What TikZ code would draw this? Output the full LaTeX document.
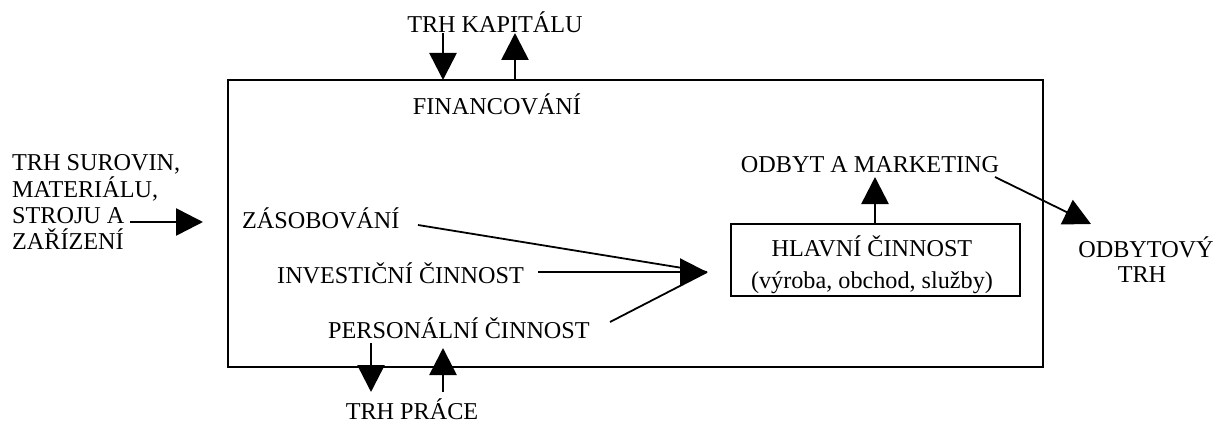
\documentclass[tikz,border=0pt]{standalone}
\usepackage{fontspec}
\setmainfont{Liberation Serif}
\usetikzlibrary{arrows.meta}
\begin{document}
\begin{tikzpicture}[x=1pt,y=-1pt,
  lbl/.style={inner sep=0pt, font=\fontsize{24.2}{26}\selectfont},
  bigarrow/.style={-{Triangle[length=27pt,width=27pt]}, line width=2.6pt},
  thinline/.style={line width=1.8pt},
  framebox/.style={draw, line width=1.8pt, inner sep=0pt}]
\useasboundingbox (0,0) rectangle (1214,422);
% main frame
\node[framebox, minimum width=815pt, minimum height=287pt] (firm) at (635.5,223.5) {};
% top
\node[lbl, anchor=base] (kap) at (495,33) {TRH KAPITÁLU};
\node[lbl, anchor=base] (fin) at (497,115) {FINANCOVÁNÍ};
\coordinate (kd1) at (443,33); \coordinate (kd2) at (443,80);
\coordinate (ku1) at (515,80); \coordinate (ku2) at (515,33);
\draw[bigarrow] (kd1) -- (kd2);
\draw[bigarrow] (ku1) -- (ku2);
% left market
\node[lbl, anchor=base west] (s1) at (12,171) {TRH SUROVIN,};
\node[lbl, anchor=base west] (s2) at (12,197) {MATERIÁLU,};
\node[lbl, anchor=base west] (s3) at (12,223) {STROJU A};
\node[lbl, anchor=base west] (s4) at (12,249) {ZAŘÍZENÍ};
\coordinate (la1) at (130,222); \coordinate (la2) at (203,222);
\draw[bigarrow] (la1) -- (la2);
% internal activities
\node[lbl, anchor=base west] (zas) at (242,228) {ZÁSOBOVÁNÍ};
\node[lbl, anchor=base west] (inv) at (277,283) {INVESTIČNÍ ČINNOST};
\node[lbl, anchor=base west] (per) at (328,338) {PERSONÁLNÍ ČINNOST};
\coordinate (conv) at (707,272);
\coordinate (zas1) at (418,225);
\coordinate (inv1) at (538,272);
\coordinate (per1) at (610,322);
\draw[thinline] (zas1) -- (conv);
\draw[thinline] (per1) -- (conv);
\draw[bigarrow, line width=2.2pt] (inv1) -- (conv);
% main activity
\node[framebox, minimum width=289pt, minimum height=72pt] (hl) at (875.5,260) {};
\node[lbl, anchor=base] (hl1) at (872,256) {HLAVNÍ ČINNOST};
\node[lbl, anchor=base] (hl2) at (872,288) {(výroba, obchod, služby)};
\node[lbl, anchor=base] (odb) at (870,173) {ODBYT A MARKETING};
\coordinate (hlt) at (875,224); \coordinate (odbb) at (875,177);
\draw[bigarrow] (hlt) -- (odbb);
% sales market
\coordinate (om1) at (995,177); \coordinate (om2) at (1091,224);
\draw[thinline, -{Triangle[length=27pt,width=27pt]}] (om1) -- (om2);
\node[lbl, anchor=base] (ot1) at (1146,257) {ODBYTOVÝ};
\node[lbl, anchor=base] (ot2) at (1142,282) {TRH};
% bottom
\coordinate (bd1) at (371,343); \coordinate (bd2) at (371,392);
\coordinate (bu1) at (443,392); \coordinate (bu2) at (443,348);
\draw[bigarrow] (bd1) -- (bd2);
\draw[bigarrow] (bu1) -- (bu2);
\node[lbl, anchor=base] (prace) at (412,419) {TRH PRÁCE};
\end{tikzpicture}
\end{document}
